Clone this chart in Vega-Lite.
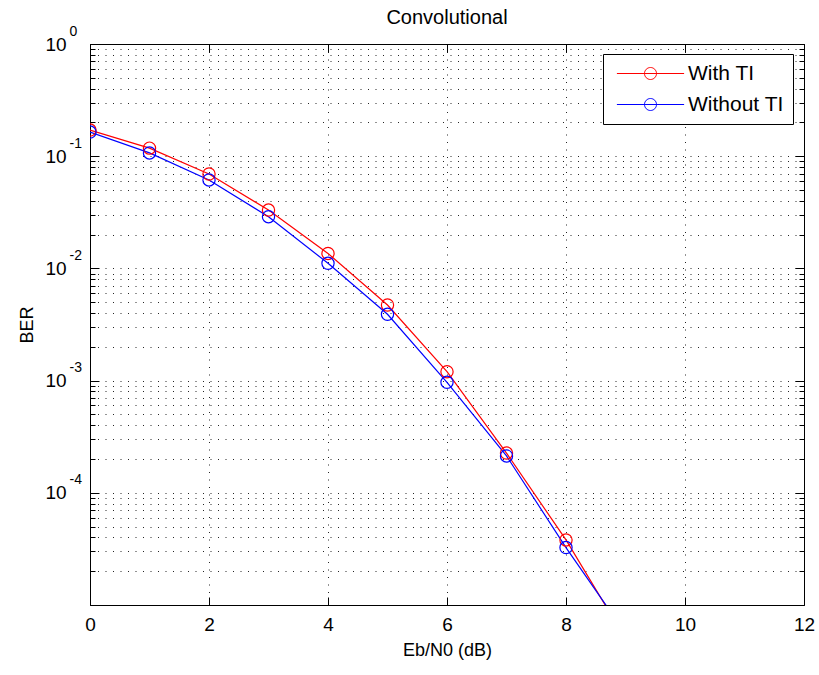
{
  "$schema": "https://vega.github.io/schema/vega-lite/v6.json",
  "width": 714,
  "height": 561,
  "autosize": {"type": "none"},
  "padding": {"left": 90, "top": 44, "right": 15, "bottom": 70},
  "background": "white",
  "title": {"text": "Convolutional", "fontSize": 20, "fontWeight": "normal", "color": "black", "anchor": "middle", "frame": "group", "offset": -4},
  "data": {
    "values": [
      {"series": "With TI", "ebn0": 0, "ber": 0.171},
      {"series": "With TI", "ebn0": 1, "ber": 0.118},
      {"series": "With TI", "ebn0": 2, "ber": 0.0694},
      {"series": "With TI", "ebn0": 3, "ber": 0.0331},
      {"series": "With TI", "ebn0": 4, "ber": 0.0136},
      {"series": "With TI", "ebn0": 5, "ber": 0.00472},
      {"series": "With TI", "ebn0": 6, "ber": 0.0012},
      {"series": "With TI", "ebn0": 7, "ber": 0.000226},
      {"series": "With TI", "ebn0": 8, "ber": 0.000038},
      {"series": "With TI", "ebn0": 9, "ber": 0.000005},
      {"series": "Without TI", "ebn0": 0, "ber": 0.164},
      {"series": "Without TI", "ebn0": 1, "ber": 0.107},
      {"series": "Without TI", "ebn0": 2, "ber": 0.0614},
      {"series": "Without TI", "ebn0": 3, "ber": 0.0289},
      {"series": "Without TI", "ebn0": 4, "ber": 0.0111},
      {"series": "Without TI", "ebn0": 5, "ber": 0.0039},
      {"series": "Without TI", "ebn0": 6, "ber": 0.000966},
      {"series": "Without TI", "ebn0": 7, "ber": 0.000213},
      {"series": "Without TI", "ebn0": 8, "ber": 0.0000325},
      {"series": "Without TI", "ebn0": 9, "ber": 0.0000056}
    ]
  },
  "layer": [
    {
      "mark": {"type": "line", "clip": true, "strokeWidth": 1.2},
      "encoding": {
        "x": {
          "field": "ebn0", "type": "quantitative",
          "scale": {"domain": [0, 12], "nice": false, "zero": false},
          "axis": {
            "orient": "bottom", "values": [0, 2, 4, 6, 8, 10, 12], "format": "d",
            "tickSize": -8, "labelPadding": 18, "labelFontSize": 19, "labelFlush": false, "labelOverlap": false,
            "grid": true, "title": "Eb/N0 (dB)", "titleFontSize": 18, "titlePadding": 7
          }
        },
        "y": {
          "field": "ber", "type": "quantitative",
          "scale": {"type": "log", "domain": [0.00001, 1], "nice": false},
          "axis": {
            "orient": "left",
            "values": [0.00001, 0.00002, 0.00003, 0.00004, 0.00005, 0.00006, 0.00007, 0.00008, 0.00009, 0.0001, 0.0002, 0.0003, 0.0004, 0.0005, 0.0006, 0.0007, 0.0008, 0.0009, 0.001, 0.002, 0.003, 0.004, 0.005, 0.006, 0.007, 0.008, 0.009, 0.01, 0.02, 0.03, 0.04, 0.05, 0.06, 0.07, 0.08, 0.09, 0.1, 0.2, 0.3, 0.4, 0.5, 0.6, 0.7, 0.8, 0.9, 1],
            "labelExpr": "datum.value == 1 || datum.value == 0.1 || datum.value == 0.01 || datum.value == 0.001 || datum.value == 0.0001 ? '10' : ''",
            "labelAlign": "left", "labelBaseline": "middle", "labelPadding": 54, "labelFontSize": 19,
            "labelOverlap": false, "labelFlush": false, "labelBound": false,
            "tickSize": {"condition": {"test": "datum.value == 1 || datum.value == 0.1 || datum.value == 0.01 || datum.value == 0.001 || datum.value == 0.0001 || datum.value == 0.00001", "value": -9}, "value": -5},
            "grid": true, "title": "BER", "titleFontSize": 18, "titlePadding": 5
          }
        },
        "color": {
          "field": "series", "type": "nominal",
          "scale": {"domain": ["With TI", "Without TI"], "range": ["#ff0000", "#0000ff"]},
          "legend": {
            "orient": "none", "legendX": 513, "legendY": 10, "title": null,
            "symbolType": "M-5.6,0H5.6M-1,0A1,1,0,1,1,1,0A1,1,0,1,1,-1,0",
            "symbolSize": 144, "symbolStrokeWidth": 1, "symbolFillColor": "transparent",
            "symbolOffset": 28, "labelOffset": 27, "labelFontSize": 21, "labelColor": "black",
            "padding": 9, "rowPadding": 9, "strokeColor": "black", "fillColor": "white"
          }
        }
      }
    },
    {
      "mark": {"type": "point", "clip": true, "filled": false, "size": 150, "strokeWidth": 1.2, "opacity": 1},
      "encoding": {
        "x": {
          "field": "ebn0", "type": "quantitative",
          "axis": {"orient": "top", "values": [0, 2, 4, 6, 8, 10, 12], "tickSize": -8, "labels": false, "grid": false, "title": null}
        },
        "y": {
          "field": "ber", "type": "quantitative",
          "axis": {
            "orient": "right",
            "values": [0.00001, 0.00002, 0.00003, 0.00004, 0.00005, 0.00006, 0.00007, 0.00008, 0.00009, 0.0001, 0.0002, 0.0003, 0.0004, 0.0005, 0.0006, 0.0007, 0.0008, 0.0009, 0.001, 0.002, 0.003, 0.004, 0.005, 0.006, 0.007, 0.008, 0.009, 0.01, 0.02, 0.03, 0.04, 0.05, 0.06, 0.07, 0.08, 0.09, 0.1, 0.2, 0.3, 0.4, 0.5, 0.6, 0.7, 0.8, 0.9, 1],
            "labels": false, "grid": false, "title": null,
            "tickSize": {"condition": {"test": "datum.value == 1 || datum.value == 0.1 || datum.value == 0.01 || datum.value == 0.001 || datum.value == 0.0001 || datum.value == 0.00001", "value": -9}, "value": -5}
          }
        },
        "color": {"field": "series", "type": "nominal"}
      }
    },
    {
      "mark": {"type": "point", "clip": true, "opacity": 0},
      "encoding": {
        "x": {"field": "ebn0", "type": "quantitative", "axis": null},
        "y": {
          "field": "ber", "type": "quantitative",
          "axis": {
            "orient": "left", "values": [0.0001, 0.001, 0.01, 0.1, 1],
            "labelExpr": "datum.value == 1 ? '0' : datum.value == 0.1 ? '-1' : datum.value == 0.01 ? '-2' : datum.value == 0.001 ? '-3' : '-4'",
            "ticks": false, "grid": false, "title": null,
            "labelAlign": "left", "labelBaseline": "middle", "labelPadding": 21, "labelOffset": -13,
            "labelFontSize": 14, "labelOverlap": false, "labelFlush": false, "labelBound": false
          }
        }
      }
    }
  ],
  "resolve": {"axis": {"x": "independent", "y": "independent"}},
  "config": {
    "font": "Liberation Sans",
    "view": {"stroke": "black", "strokeWidth": 1},
    "axis": {
      "domain": false, "tickColor": "black", "tickWidth": 1, "labelColor": "black", "titleColor": "black",
      "titleFontWeight": "normal", "gridColor": "black", "gridDash": [1, 6.5], "gridWidth": 1, "gridOpacity": 0.85
    },
    "legend": {"labelFont": "Liberation Sans"}
  }
}
